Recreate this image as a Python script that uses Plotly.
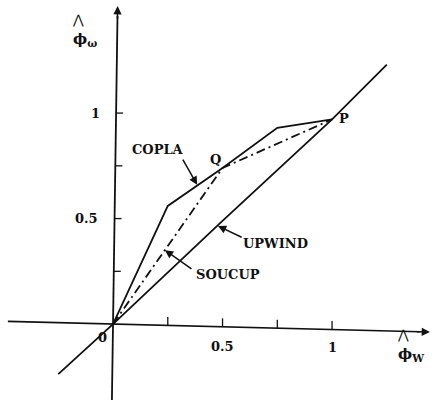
import plotly.graph_objects as go

# Normalised face values: hat-phi_w on x, hat-phi_omega on y
copla_x = [0.0, 0.25, 0.5, 0.75, 1.0]
copla_y = [0.0, 0.56, 0.74, 0.93, 0.97]

soucup_x = [0.0, 0.5, 1.0]
soucup_y = [0.0, 0.74, 0.97]

upwind_x = [-0.25, -0.164, -0.06, 0.0, 0.49, 1.0, 1.25]
upwind_y = [-0.237, -0.156, -0.06, 0.0, 0.48, 0.97, 1.23]

x_ticks = [0.25, 0.5, 0.75, 1.0]
x_tick_labels = {0.5: "0.5", 1.0: "1"}
y_ticks = [0.25, 0.5, 0.75, 1.0]
y_tick_labels = {0.5: "0.5", 1.0: "1"}

# small drift of the hand-drawn axes
x_axis_slope = -0.026   # y offset per unit x along the horizontal axis
y_axis_slope = 0.014    # x offset per unit y along the vertical axis

X_RANGE = [-0.516, 1.470]
Y_RANGE = [-0.360, 1.536]

INK = "#111111"
FONT = dict(family="DejaVu Serif", size=13, color=INK, weight="bold")

fig = go.Figure()

def line(xs, ys, dash="solid", width=1.8):
    fig.add_trace(go.Scatter(x=xs, y=ys, mode="lines",
                             line=dict(color=INK, width=width, dash=dash),
                             hoverinfo="skip", showlegend=False))

# axes
x_ax_x = [-0.48, 1.40]
line(x_ax_x, [x_axis_slope * v for v in x_ax_x], width=1.6)
y_ax_y = [-0.36, 1.46]
line([y_axis_slope * v for v in y_ax_y], y_ax_y, width=1.8)

# ticks
for t in x_ticks:
    y0 = x_axis_slope * t
    line([t, t], [y0, y0 + 0.04], width=1.3)
for t in y_ticks:
    x0 = y_axis_slope * t
    line([x0, x0 + 0.032], [t, t], width=1.3)

# curves
line(upwind_x, upwind_y)
line(copla_x, copla_y)
line(soucup_x, soucup_y, dash="9px,4px,2px,4px")

ann = []

def text(x, y, s, size=13, **kw):
    f = dict(FONT)
    f["size"] = size
    opts = dict(xanchor="center", yanchor="middle")
    opts.update(kw)
    ann.append(dict(x=x, y=y, xref="x", yref="y", text=s, showarrow=False,
                    font=f, **opts))

def pointer(x0, y0, x1, y1, head=2):
    ann.append(dict(x=x1, y=y1, ax=x0, ay=y0, xref="x", yref="y",
                    axref="x", ayref="y", text="", showarrow=True,
                    arrowhead=head, arrowsize=1.1, arrowwidth=1.5,
                    arrowcolor=INK))

# axis arrowheads
pointer(1.38, x_axis_slope * 1.38, 1.447, x_axis_slope * 1.447)
pointer(y_axis_slope * 1.44, 1.44, y_axis_slope * 1.507, 1.507)

# tick labels
for t, s in x_tick_labels.items():
    text(t, -0.1 - 0.01 * t, s)
for t, s in y_tick_labels.items():
    text(-0.12 + (0.04 if s == "1" else 0.0), t, s)
text(-0.05, -0.062, "0")

# axis titles: hatted phi with subscript
HAT = ("<span style='font-family:DejaVu Sans;font-size:13px;"
       "font-weight:normal'>⋀</span>")
text(-0.13, 1.39, HAT + "<br>ϕ<sub>ω</sub>", size=15, align="left")
text(1.36, -0.1, HAT + "<br>ϕ<sub>W</sub>", size=15, align="left")

# point labels
text(0.47, 0.78, "Q")
text(1.055, 0.972, "P")

# series labels and leaders
text(0.205, 0.829, "COPLA")
pointer(0.315, 0.787, 0.384, 0.66)
text(0.74, 0.384, "UPWIND")
pointer(0.594, 0.408, 0.479, 0.465)
text(0.525, 0.237, "SOUCUP")
pointer(0.365, 0.256, 0.237, 0.35)

fig.update_layout(
    width=435, height=400,
    margin=dict(l=0, r=0, t=0, b=0),
    paper_bgcolor="white", plot_bgcolor="white",
    xaxis=dict(range=X_RANGE, visible=False, fixedrange=True),
    yaxis=dict(range=Y_RANGE, visible=False, fixedrange=True),
    annotations=ann,
    showlegend=False,
)

fig.write_html("out.html")
